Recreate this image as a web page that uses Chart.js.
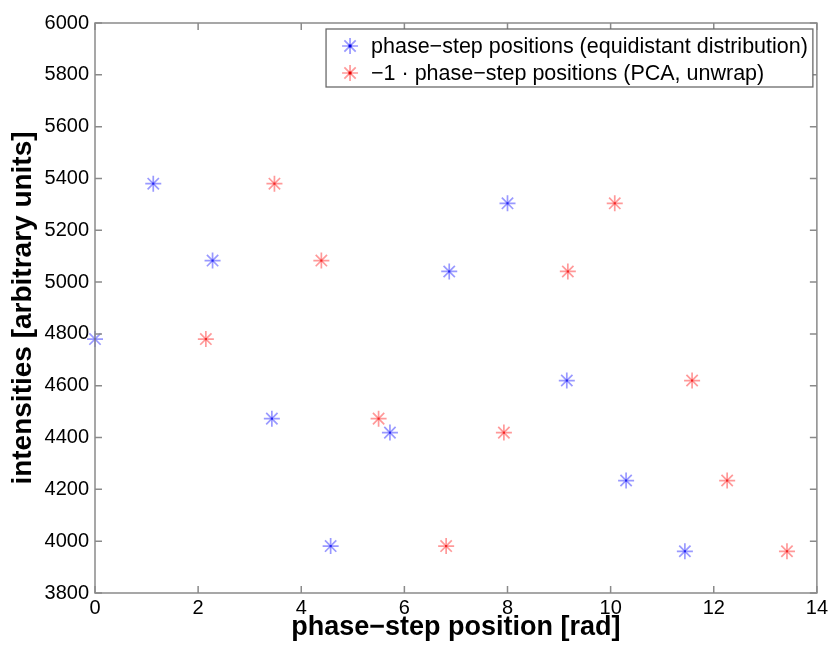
<!DOCTYPE html>
<html>
<head>
<meta charset="utf-8">
<script src="https://cdn.jsdelivr.net/npm/chart.js@4.4.1/dist/chart.umd.min.js"></script>
<style>
  html, body { margin: 0; padding: 0; background: #fff; }
  #wrap { width: 831px; height: 646px; }
</style>
</head>
<body>
<div id="wrap"><canvas id="c" width="831" height="646"></canvas></div>
<script>
// ---- data ----
const intensities = [4780, 5380, 5083, 4473, 3981, 4419, 5041, 5304, 4620, 4234, 3961];
const equidistantX = [0, 1.13, 2.28, 3.43, 4.57, 5.72, 6.87, 8.00, 9.15, 10.30, 11.44];
const pcaX = [2.15, 3.48, 4.39, 5.50, 6.81, 7.93, 9.17, 10.08, 11.58, 12.26, 13.42];
const seriesLabels = [
  'phase\u2212step positions (equidistant distribution)',
  '\u22121 \u00b7 phase\u2212step positions (PCA, unwrap)'
];
const xTitle = 'phase\u2212step position [rad]';
const yTitle = 'intensities [arbitrary units]';
const xRange = [0, 14];
const yRange = [3800, 6000];
const xStep = 2;
const yStep = 200;

const toPts = (xs, ys) => xs.map((x, i) => ({ x: x, y: ys[i] }));

const styles = [
  { arm: 'rgba(70,70,255,0.55)', dot: 'rgb(0,0,230)' },
  { arm: 'rgba(255,70,70,0.55)', dot: 'rgb(230,0,0)' }
];

const FONT = "'Liberation Sans', Arial, Helvetica, sans-serif";

function starDs(label, pts, st) {
  return {
    label: label, data: pts, pointStyle: 'star', pointRadius: 8, pointHoverRadius: 8,
    borderColor: st.arm, backgroundColor: st.arm, pointBorderWidth: 1.7, showLine: false
  };
}
function dotDs(label, pts, st) {
  return {
    label: label + ' (centre)', data: pts, pointStyle: 'rect', pointRadius: 1.6, pointHoverRadius: 1.6,
    borderColor: st.dot, backgroundColor: st.dot, pointBorderWidth: 0, showLine: false
  };
}

const framePlugin = {
  id: 'frame',
  afterDatasetsDraw(chart) {
    const { ctx, chartArea: a, scales } = chart;
    ctx.save();
    ctx.strokeStyle = '#8a8a8a';
    ctx.lineWidth = 1.5;
    ctx.strokeRect(a.left, a.top, a.right - a.left, a.bottom - a.top);
    const L = 7;
    ctx.beginPath();
    scales.x.ticks.forEach(t => {
      const px = scales.x.getPixelForValue(t.value);
      ctx.moveTo(px, a.bottom); ctx.lineTo(px, a.bottom - L);
      ctx.moveTo(px, a.top); ctx.lineTo(px, a.top + L);
    });
    scales.y.ticks.forEach(t => {
      const py = scales.y.getPixelForValue(t.value);
      ctx.moveTo(a.left, py); ctx.lineTo(a.left + L, py);
      ctx.moveTo(a.right, py); ctx.lineTo(a.right - L, py);
    });
    ctx.stroke();

    // legend box inside the plot, top right
    ctx.font = '21.5px ' + FONT;
    const labels = [chart.data.datasets[0].label, chart.data.datasets[2].label];
    const tw = Math.max(...labels.map(s => ctx.measureText(s).width));
    const bw = tw + 45 + 5;
    const bh = 58;
    const bx = a.right - 4 - bw;
    const by = a.top + 6;
    ctx.fillStyle = '#fff';
    ctx.fillRect(bx, by, bw, bh);
    ctx.strokeStyle = '#6a6a6a';
    ctx.lineWidth = 1.3;
    ctx.strokeRect(bx, by, bw, bh);
    [0, 1].forEach(i => {
      const cy = by + 17 + i * 27;
      const st = styles[i];
      ctx.strokeStyle = st.arm; ctx.fillStyle = st.arm; ctx.lineWidth = 1.7;
      Chart.helpers.drawPoint(ctx, { pointStyle: 'star', radius: 8, rotation: 0, borderWidth: 1.7 }, bx + 24, cy);
      ctx.fillStyle = st.dot;
      ctx.fillRect(bx + 24 - 1.5, cy - 1.5, 3, 3);
      ctx.fillStyle = '#000';
      ctx.textBaseline = 'middle';
      ctx.textAlign = 'left';
      ctx.fillText(labels[i], bx + 45, cy + 1);
    });
    ctx.restore();
  }
};

new Chart(document.getElementById('c'), {
  type: 'scatter',
  data: {
    datasets: [
      starDs(seriesLabels[0], toPts(equidistantX, intensities), styles[0]),
      dotDs(seriesLabels[0], toPts(equidistantX, intensities), styles[0]),
      starDs(seriesLabels[1], toPts(pcaX, intensities), styles[1]),
      dotDs(seriesLabels[1], toPts(pcaX, intensities), styles[1])
    ]
  },
  options: {
    responsive: false,
    animation: false,
    events: [],
    clip: false,
    layout: { padding: { left: 0, right: 14, top: 23, bottom: 0 } },
    plugins: { legend: { display: false }, tooltip: { enabled: false } },
    scales: {
      x: {
        type: 'linear', min: xRange[0], max: xRange[1],
        ticks: { stepSize: xStep, color: '#000', font: { family: FONT, size: 20 }, padding: 3, maxRotation: 0,
                 callback: v => String(v) },
        grid: { display: true, drawOnChartArea: false, drawTicks: false, color: 'rgba(0,0,0,0)' },
        border: { display: false },
        title: { display: true, text: xTitle, color: '#000', font: { family: FONT, size: 27, weight: 'bold' }, padding: { top: 0, bottom: 2 } },
        afterFit(s) { s.height = 53; }
      },
      y: {
        type: 'linear', min: yRange[0], max: yRange[1],
        ticks: { stepSize: yStep, color: '#000', font: { family: FONT, size: 20 }, padding: 6,
                 callback: v => String(v) },
        grid: { display: true, drawOnChartArea: false, drawTicks: false, color: 'rgba(0,0,0,0)' },
        border: { display: false },
        title: { display: true, text: yTitle, color: '#000', font: { family: FONT, size: 28, weight: 'bold' }, padding: { top: 6, bottom: 0 } },
        afterFit(s) { s.width = 95; }
      }
    }
  },
  plugins: [framePlugin]
});
</script>
</body>
</html>
